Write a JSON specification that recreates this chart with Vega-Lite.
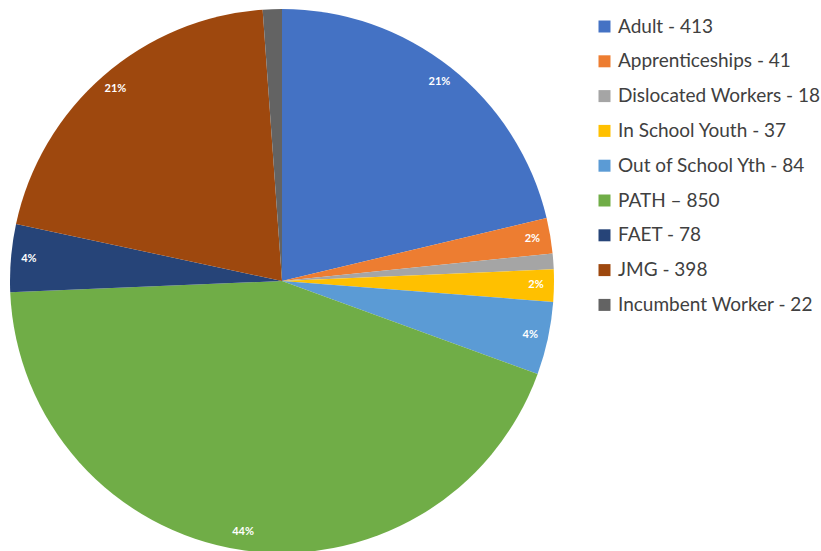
{
  "$schema": "https://vega.github.io/schema/vega-lite/v6.json",
  "autosize": "none",
  "width": 564,
  "height": 540,
  "padding": {"left": 0, "top": 11, "right": 257, "bottom": 0},
  "background": "white",
  "data": {
    "values": [
      {"idx": 1, "label": "Adult - 413", "count": 413, "pct": "21%"},
      {"idx": 2, "label": "Apprenticeships - 41", "count": 41, "pct": "2%"},
      {"idx": 3, "label": "Dislocated Workers - 18", "count": 18, "pct": ""},
      {"idx": 4, "label": "In School Youth - 37", "count": 37, "pct": "2%"},
      {"idx": 5, "label": "Out of School Yth - 84", "count": 84, "pct": "4%"},
      {"idx": 6, "label": "PATH – 850", "count": 850, "pct": "44%"},
      {"idx": 7, "label": "FAET - 78", "count": 78, "pct": "4%"},
      {"idx": 8, "label": "JMG - 398", "count": 398, "pct": "21%"},
      {"idx": 9, "label": "Incumbent Worker - 22", "count": 22, "pct": ""}
    ]
  },
  "encoding": {
    "theta": {"field": "count", "type": "quantitative", "stack": true},
    "order": {"field": "idx", "type": "quantitative"},
    "color": {
      "field": "label",
      "type": "nominal",
      "sort": null,
      "scale": {
        "domain": ["Adult - 413", "Apprenticeships - 41", "Dislocated Workers - 18", "In School Youth - 37", "Out of School Yth - 84", "PATH – 850", "FAET - 78", "JMG - 398", "Incumbent Worker - 22"],
        "range": ["#4472C4", "#ED7D31", "#A5A5A5", "#FFC000", "#5B9BD5", "#70AD47", "#264478", "#9E480E", "#636363"]
      },
      "legend": {
        "title": null,
        "orient": "none",
        "legendX": 595,
        "legendY": 6,
        "symbolType": "square",
        "symbolSize": 144,
        "symbolStrokeWidth": 0,
        "labelFont": "Lato",
        "labelFontSize": 19,
        "labelColor": "#404040",
        "labelOffset": 4,
        "rowPadding": 14.8,
        "labelLimit": 300
      }
    }
  },
  "layer": [
    {"mark": {"type": "arc", "outerRadius": 272}},
    {
      "mark": {"type": "text", "radius": 254, "fontSize": 11, "fontWeight": "bold", "font": "Lato"},
      "encoding": {"text": {"field": "pct", "type": "nominal"}, "color": {"value": "white"}}
    }
  ],
  "config": {"view": {"stroke": null}}
}
